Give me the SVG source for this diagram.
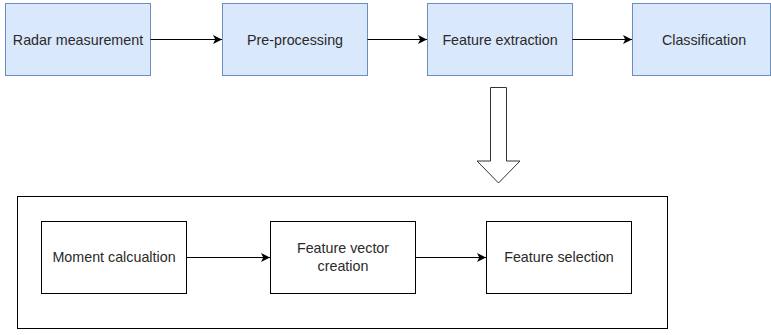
<svg xmlns="http://www.w3.org/2000/svg" width="771" height="335" viewBox="0 0 771 335">
  <style>
    .blue { fill: #dae8fc; stroke: #6c8ebf; stroke-width: 1; }
    .plain { fill: #ffffff; stroke: #000000; stroke-width: 1; }
    .lbl { font-family: "Liberation Sans", Arial, sans-serif; font-size: 14.3px; fill: #2a2a2a; text-anchor: middle; dominant-baseline: central; }
    .edge { stroke: #000000; stroke-width: 1; fill: none; marker-end: url(#arrow); }
  </style>
  <defs>
    <marker id="arrow" viewBox="0 0 10 10" refX="10" refY="5" markerWidth="9" markerHeight="9" markerUnits="userSpaceOnUse" orient="auto">
      <path d="M0,0 L10,5 L0,10 L2.5,5 Z" fill="#000000"/>
    </marker>
  </defs>

  <rect width="771" height="335" fill="#ffffff"/>

  <!-- detail container -->
  <g id="container">
    <rect class="plain" x="17.5" y="196.5" width="650" height="132"/>
  </g>

  <!-- top pipeline -->
  <g id="radar">
    <rect class="blue" x="5.5" y="3.5" width="145" height="72"/>
    <text class="lbl" x="78" y="39.5">Radar measurement</text>
  </g>
  <g id="preprocessing">
    <rect class="blue" x="222.5" y="3.5" width="145" height="72"/>
    <text class="lbl" x="295" y="39.5">Pre-processing</text>
  </g>
  <g id="feature-extraction">
    <rect class="blue" x="427.5" y="3.5" width="145" height="72"/>
    <text class="lbl" x="500" y="39.5">Feature extraction</text>
  </g>
  <g id="classification">
    <rect class="blue" x="632.5" y="3.5" width="138" height="72"/>
    <text class="lbl" x="704" y="39.5">Classification</text>
  </g>

  <!-- expansion arrow -->
  <g id="expand-arrow">
    <path d="M490.5,87.5 L506.5,87.5 L506.5,161 L520,161 L498.5,183 L477,161 L490.5,161 Z" fill="#ffffff" stroke="#333333" stroke-width="1" stroke-linejoin="miter"/>
  </g>

  <!-- detail steps -->
  <g id="moment">
    <rect class="plain" x="41.5" y="221.5" width="145" height="72"/>
    <text class="lbl" x="114" y="256.5">Moment calcualtion</text>
  </g>
  <g id="feature-vector">
    <rect class="plain" x="270.5" y="221.5" width="145" height="72"/>
    <text class="lbl" x="343" y="247.5">Feature vector</text>
    <text class="lbl" x="343" y="265.5">creation</text>
  </g>
  <g id="feature-selection">
    <rect class="plain" x="486.5" y="221.5" width="145" height="72"/>
    <text class="lbl" x="559" y="256.5">Feature selection</text>
  </g>

  <!-- connectors -->
  <g id="connectors">
    <line class="edge" x1="150.5" y1="39.5" x2="222" y2="39.5"/>
    <line class="edge" x1="367.5" y1="39.5" x2="427" y2="39.5"/>
    <line class="edge" x1="572.5" y1="39.5" x2="632" y2="39.5"/>
    <line class="edge" x1="186.5" y1="257.5" x2="270" y2="257.5"/>
    <line class="edge" x1="415.5" y1="257.5" x2="486" y2="257.5"/>
  </g>
</svg>
